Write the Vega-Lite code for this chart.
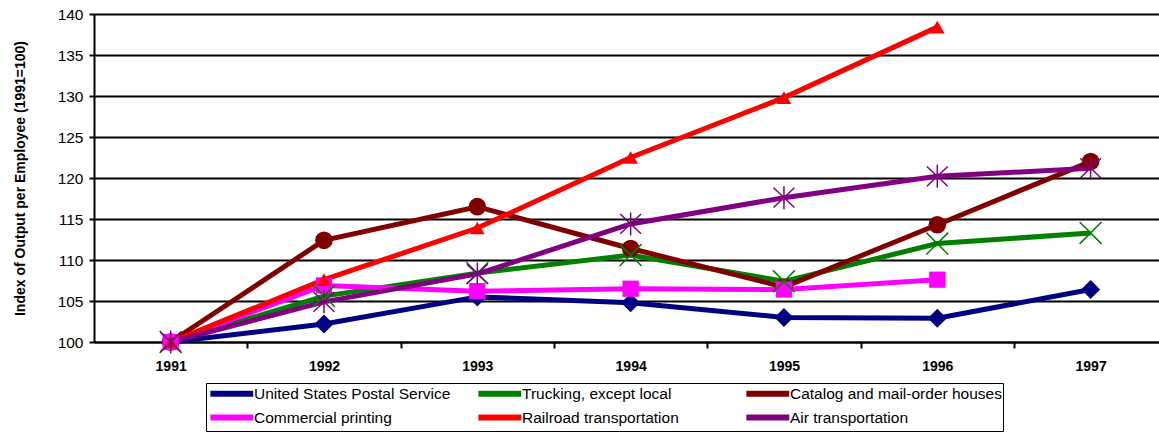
{
  "$schema": "https://vega.github.io/schema/vega-lite/v6.json",
  "width": 1065,
  "height": 328,
  "autosize": {"type": "none"},
  "padding": {"left": 94, "top": 14, "right": 0, "bottom": 92},
  "background": "white",
  "config": {"font": "Liberation Sans", "view": {"stroke": null}},
  "resolve": {"scale": {"shape": "independent", "size": "independent"}},
  "data": {
    "values": [
      {"year": 1991, "series": "United States Postal Service", "value": 100},
      {"year": 1992, "series": "United States Postal Service", "value": 102.2},
      {"year": 1993, "series": "United States Postal Service", "value": 105.5},
      {"year": 1994, "series": "United States Postal Service", "value": 104.8},
      {"year": 1995, "series": "United States Postal Service", "value": 103.0},
      {"year": 1996, "series": "United States Postal Service", "value": 102.9},
      {"year": 1997, "series": "United States Postal Service", "value": 106.4},
      {"year": 1991, "series": "Trucking, except local", "value": 100},
      {"year": 1992, "series": "Trucking, except local", "value": 105.6},
      {"year": 1993, "series": "Trucking, except local", "value": 108.4},
      {"year": 1994, "series": "Trucking, except local", "value": 110.6},
      {"year": 1995, "series": "Trucking, except local", "value": 107.4},
      {"year": 1996, "series": "Trucking, except local", "value": 112.0},
      {"year": 1997, "series": "Trucking, except local", "value": 113.3},
      {"year": 1991, "series": "Catalog and mail-order houses", "value": 100},
      {"year": 1992, "series": "Catalog and mail-order houses", "value": 112.4},
      {"year": 1993, "series": "Catalog and mail-order houses", "value": 116.5},
      {"year": 1994, "series": "Catalog and mail-order houses", "value": 111.4},
      {"year": 1995, "series": "Catalog and mail-order houses", "value": 106.7},
      {"year": 1996, "series": "Catalog and mail-order houses", "value": 114.3},
      {"year": 1997, "series": "Catalog and mail-order houses", "value": 122.0},
      {"year": 1991, "series": "Commercial printing", "value": 100},
      {"year": 1992, "series": "Commercial printing", "value": 106.9},
      {"year": 1993, "series": "Commercial printing", "value": 106.2},
      {"year": 1994, "series": "Commercial printing", "value": 106.5},
      {"year": 1995, "series": "Commercial printing", "value": 106.4},
      {"year": 1996, "series": "Commercial printing", "value": 107.6},
      {"year": 1991, "series": "Railroad transportation", "value": 100},
      {"year": 1992, "series": "Railroad transportation", "value": 107.6},
      {"year": 1993, "series": "Railroad transportation", "value": 113.9},
      {"year": 1994, "series": "Railroad transportation", "value": 122.5},
      {"year": 1995, "series": "Railroad transportation", "value": 129.8},
      {"year": 1996, "series": "Railroad transportation", "value": 138.4},
      {"year": 1991, "series": "Air transportation", "value": 100},
      {"year": 1992, "series": "Air transportation", "value": 104.9},
      {"year": 1993, "series": "Air transportation", "value": 108.3},
      {"year": 1994, "series": "Air transportation", "value": 114.4},
      {"year": 1995, "series": "Air transportation", "value": 117.6},
      {"year": 1996, "series": "Air transportation", "value": 120.2},
      {"year": 1997, "series": "Air transportation", "value": 121.2}
    ]
  },
  "encoding": {
    "x": {
      "field": "year", "type": "quantitative",
      "scale": {"domain": [1990.5, 1997.446], "nice": false, "zero": false},
      "axis": {
        "values": [1991, 1992, 1993, 1994, 1995, 1996, 1997],
        "format": "d", "title": null, "grid": false,
        "domainColor": "black", "domainWidth": 2,
        "tickColor": "black", "tickWidth": 2, "tickSize": 6, "tickOffset": 76.67,
        "labelFontSize": 14, "labelFontWeight": "bold", "labelColor": "black", "labelPadding": 11,
        "labelOffset": -76.67
      }
    },
    "y": {
      "field": "value", "type": "quantitative",
      "scale": {"domain": [100, 140], "nice": false, "zero": false},
      "axis": {
        "values": [100, 105, 110, 115, 120, 125, 130, 135, 140],
        "title": "Index of Output per Employee (1991=100)",
        "titleFontSize": 14, "titleFontWeight": "bold", "titleColor": "black", "titlePadding": 30,
        "gridColor": "black", "gridWidth": 2, "gridOpacity": 1,
        "domainColor": "black", "domainWidth": 2,
        "tickColor": "black", "tickWidth": 2, "tickSize": 5,
        "labelFontSize": 15.5, "labelColor": "black", "labelPadding": 6
      }
    },
    "color": {
      "field": "series", "type": "nominal",
      "scale": {
        "domain": ["United States Postal Service", "Trucking, except local", "Catalog and mail-order houses", "Commercial printing", "Railroad transportation", "Air transportation"],
        "range": ["#000080", "#008000", "#800000", "#FF00FF", "#FF0000", "#800080"]
      },
      "sort": null,
      "legend": {
        "title": null, "orient": "none", "legendX": 112, "legendY": 369,
        "direction": "horizontal", "columns": 3, "gridAlign": "all",
        "columnPadding": 0, "rowPadding": -1, "padding": 1,
        "symbolType": "M-1,0L6,0", "symbolSize": 150, "symbolStrokeWidth": 6,
        "labelFontSize": 15.5, "labelColor": "black", "labelOffset": 28, "labelLimit": 400,
        "strokeColor": "black"
      }
    }
  },
  "layer": [
    {"mark": {"type": "line", "strokeWidth": 5}},
    {
      "transform": [{"filter": {"field": "series", "oneOf": ["United States Postal Service", "Catalog and mail-order houses", "Commercial printing", "Railroad transportation"]}}],
      "mark": {"type": "point", "filled": true, "opacity": 1},
      "encoding": {
        "shape": {
          "field": "series", "type": "nominal",
          "scale": {"domain": ["United States Postal Service", "Catalog and mail-order houses", "Commercial printing", "Railroad transportation"], "range": ["diamond", "circle", "square", "triangle-up"]},
          "legend": null
        },
        "size": {
          "field": "series", "type": "nominal",
          "scale": {"domain": ["United States Postal Service", "Catalog and mail-order houses", "Commercial printing", "Railroad transportation"], "range": [360, 215, 370, 330]},
          "legend": null
        },
        "color": {"field": "series", "type": "nominal", "legend": null}
      }
    },
    {
      "transform": [{"filter": {"field": "series", "oneOf": ["Trucking, except local", "Air transportation"]}}],
      "mark": {"type": "point", "filled": false, "size": 480, "strokeWidth": 1.5, "opacity": 1},
      "encoding": {
        "shape": {
          "field": "series", "type": "nominal",
          "scale": {"domain": ["Trucking, except local", "Air transportation"], "range": ["M-1,-1L1,1M-1,1L1,-1", "M-0.95,-0.9L0.95,0.9M-0.95,0.9L0.95,-0.9M0,-1.05L0,1.05"]},
          "legend": null
        },
        "color": {"field": "series", "type": "nominal", "legend": null}
      }
    }
  ]
}
